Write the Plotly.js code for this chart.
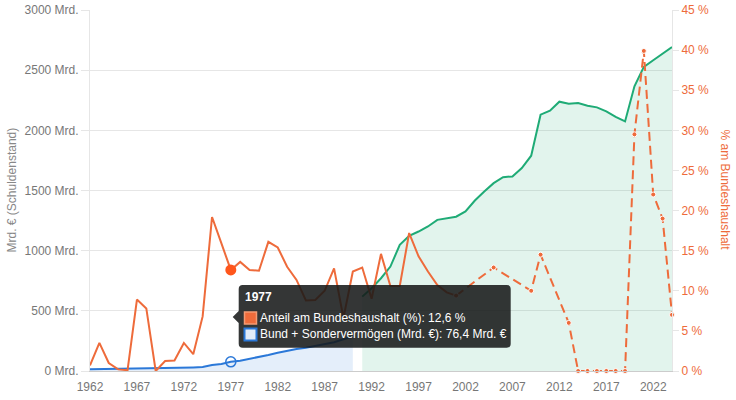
<!DOCTYPE html>
<html lang="de">
<head>
<meta charset="utf-8">
<script src="https://cdn.plot.ly/plotly-3.0.1.min.js"></script>
<style>
  html, body { margin: 0; padding: 0; background: #fff; }
  #chart { width: 736px; height: 400px; }
</style>
</head>
<body>
<div id="chart"></div>
<script>
// Schuldenstand Bund (Mrd. €), 1962-1990
const yearsBund = [1962, 1963, 1964, 1965, 1966, 1967, 1968, 1969, 1970, 1971,
    1972, 1973, 1974, 1975, 1976, 1977, 1978, 1979, 1980, 1981,
    1982, 1983, 1984, 1985, 1986, 1987, 1988, 1989, 1990];
const debtBund = [14, 15, 17, 18, 19, 22, 25, 24, 25, 26,
    28, 30, 33, 50, 58, 76.4, 86, 100, 114, 133,
    152, 169, 183, 194, 208, 222, 239, 264, 285];

// Bund + Sondervermögen (Mrd. €), 1991-2024
const yearsSonder = [1991, 1992, 1993, 1994, 1995, 1996, 1997, 1998, 1999, 2000,
    2001, 2002, 2003, 2004, 2005, 2006, 2007, 2008, 2009, 2010,
    2011, 2012, 2013, 2014, 2015, 2016, 2017, 2018, 2019, 2020,
    2021, 2022, 2023, 2024];
const debtSonder = [618, 688, 771, 868, 1048, 1123, 1159, 1201, 1256, 1268,
    1282, 1326, 1417, 1492, 1561, 1611, 1617, 1686, 1789, 2130,
    2163, 2238, 2221, 2227, 2205, 2191, 2158, 2111, 2074, 2366,
    2527, 2582, 2637, 2693];

// Anteil am Bundeshaushalt (%)
const yearsShare = [1962, 1963, 1964, 1965, 1966, 1967, 1968, 1969, 1970, 1971,
    1972, 1973, 1974, 1975, 1976, 1977, 1978, 1979, 1980, 1981,
    1982, 1983, 1984, 1985, 1986, 1987, 1988, 1989, 1990, 1991,
    1992, 1993, 1994, 1995, 1996, 1997, 1998, 1999, 2000, 2001];
const shareBudget = [0.7, 3.5, 1.0, 0.2, 0.1, 8.9, 7.8, 0.0, 1.25, 1.3,
    3.5, 2.1, 6.8, 19.2, 15.9, 12.6, 13.6, 12.6, 12.5, 16.1,
    15.4, 13.0, 11.35, 8.8, 8.85, 10.0, 12.8, 6.6, 12.4, 12.9,
    9.0, 14.6, 10.6, 10.6, 17.2, 14.3, 12.4, 10.7, 9.8, 9.4];

const yearsShareLater = [2001, 2005, 2009, 2010, 2013, 2014, 2015, 2016, 2017, 2018,
    2019, 2020, 2021, 2022, 2023, 2024];
const shareBudgetLater = [9.4, 12.9, 10.0, 14.5, 6.0, 0, 0, 0, 0, 0,
    0, 29.5, 39.9, 22.0, 19.0, 7.0];

const xTickYears = [1962, 1967, 1972, 1977, 1982, 1987, 1992, 1997, 2002, 2007, 2012, 2017, 2022];
const leftTicks = [0, 500, 1000, 1500, 2000, 2500, 3000];
const leftTickText = ['0 Mrd.', '500 Mrd.', '1000 Mrd.', '1500 Mrd.', '2000 Mrd.', '2500 Mrd.', '3000 Mrd.'];
const rightTicks = [0, 5, 10, 15, 20, 25, 30, 35, 40, 45];
const rightTickText = ['0 %', '5 %', '10 %', '15 %', '20 %', '25 %', '30 %', '35 %', '40 %', '45 %'];

const hoverYear = 1977;

const colors = {
    orange: '#ee6b3b',
    orangeHover: '#ff561c',
    blue: '#2b78d8',
    blueFill: 'rgba(43,120,216,0.13)',
    green: '#1fab76',
    greenFill: 'rgba(31,171,118,0.13)',
    text: '#777',
    grid: '#e6e6e6'
};
const FONT = 'Liberation Sans, Arial, sans-serif';

// plot area in pixels: left 90, top 10, width 582, height 361
const px = X => (X - 90) / 582;
const py = Y => (371 - Y) / 361;
const fmt = v => v.toFixed(1).replace('.', ',');

function tooltipPath(x0, y0, x1, y1, r, tipY) {
    const p = (X, Y) => px(X).toFixed(5) + ',' + py(Y).toFixed(5);
    return 'M' + p(x0 + r, y0) + ' L' + p(x1 - r, y0) + ' Q' + p(x1, y0) + ' ' + p(x1, y0 + r) +
        ' L' + p(x1, y1 - r) + ' Q' + p(x1, y1) + ' ' + p(x1 - r, y1) +
        ' L' + p(x0 + r, y1) + ' Q' + p(x0, y1) + ' ' + p(x0, y1 - r) +
        ' L' + p(x0, tipY + 6) + ' L' + p(x0 - 6, tipY) + ' L' + p(x0, tipY - 6) +
        ' L' + p(x0, y0 + r) + ' Q' + p(x0, y0) + ' ' + p(x0 + r, y0) + ' Z';
}

const iShare = yearsShare.indexOf(hoverYear);
const iBund = yearsBund.indexOf(hoverYear);

const traces = [
    {
        x: yearsBund, y: debtBund, type: 'scatter', mode: 'lines',
        name: 'Bund + Sondervermögen (Mrd. €)',
        fill: 'tozeroy', fillcolor: colors.blueFill,
        line: { color: colors.blue, width: 2 }
    },
    {
        x: yearsSonder, y: debtSonder, type: 'scatter', mode: 'lines',
        name: 'Bund + Sondervermögen (Mrd. €)',
        fill: 'tozeroy', fillcolor: colors.greenFill,
        line: { color: colors.green, width: 2 }
    },
    {
        x: [hoverYear], y: [debtBund[iBund]], type: 'scatter', mode: 'markers',
        marker: { size: 10, color: 'rgba(0,0,0,0)', line: { color: colors.blue, width: 1.5 } }
    },
    {
        x: yearsShare, y: shareBudget, type: 'scatter', mode: 'lines', yaxis: 'y2',
        name: 'Anteil am Bundeshaushalt (%)',
        line: { color: colors.orange, width: 2 }
    },
    {
        x: yearsShareLater, y: shareBudgetLater, type: 'scatter', mode: 'lines+markers', yaxis: 'y2',
        line: { color: colors.orange, width: 2, dash: '9px,5px' },
        marker: { size: 5, color: colors.orange, line: { color: '#fff', width: 1 } },
        cliponaxis: false
    },
    {
        x: [hoverYear], y: [shareBudget[iShare]], type: 'scatter', mode: 'markers', yaxis: 'y2',
        marker: { size: 11, color: colors.orangeHover }
    }
];

const layout = {
    width: 736,
    height: 400,
    margin: { l: 90, r: 64, t: 10, b: 29 },
    paper_bgcolor: '#fff',
    plot_bgcolor: '#fff',
    font: { family: FONT, size: 12, color: colors.text },
    showlegend: false,
    hovermode: false,
    xaxis: {
        range: [1962, 2024],
        tickvals: xTickYears,
        showgrid: false, zeroline: false,
        showline: true, linecolor: '#ccc', linewidth: 1,
        ticks: 'outside', ticklen: 5, tickcolor: 'rgba(0,0,0,0)',
        tickfont: { size: 12, color: colors.text }
    },
    yaxis: {
        range: [0, 3000],
        tickvals: leftTicks, ticktext: leftTickText,
        gridcolor: colors.grid, zeroline: false,
        showline: true, linecolor: colors.grid,
        ticks: 'outside', ticklen: 8, tickcolor: colors.grid,
        tickfont: { size: 12, color: colors.text }
    },
    yaxis2: {
        overlaying: 'y', side: 'right',
        range: [0, 45],
        tickvals: rightTicks, ticktext: rightTickText,
        showgrid: false, zeroline: false,
        showline: true, linecolor: colors.grid,
        ticks: 'outside', ticklen: 6, tickcolor: colors.grid,
        tickfont: { size: 12, color: colors.orange }
    },
    shapes: [
        {
            type: 'path', xref: 'paper', yref: 'paper', layer: 'above',
            path: tooltipPath(238.7, 285, 510.7, 347.7, 4, 317),
            fillcolor: 'rgba(22,24,24,0.87)', line: { width: 0 }
        },
        {
            type: 'rect', xref: 'paper', yref: 'paper', layer: 'above',
            x0: px(244.5), x1: px(256.5), y0: py(312), y1: py(324),
            fillcolor: colors.orange, line: { color: '#f39a73', width: 1.5 }
        },
        {
            type: 'rect', xref: 'paper', yref: 'paper', layer: 'above',
            x0: px(244.5), x1: px(256.5), y0: py(328.5), y1: py(340.5),
            fillcolor: '#e2ecf9', line: { color: colors.blue, width: 2 }
        }
    ],
    annotations: [
        {
            xref: 'paper', yref: 'paper', x: px(11), y: 0.5,
            text: 'Mrd. € (Schuldenstand)', textangle: -90, showarrow: false,
            xanchor: 'center', yanchor: 'middle',
            font: { size: 12, color: '#888' }
        },
        {
            xref: 'paper', yref: 'paper', x: px(725), y: 0.5,
            text: '% am Bundeshaushalt', textangle: 90, showarrow: false,
            xanchor: 'center', yanchor: 'middle',
            font: { size: 12, color: colors.orange }
        },
        {
            xref: 'paper', yref: 'paper', x: px(244), y: py(297),
            text: '<b>' + hoverYear + '</b>', showarrow: false, borderpad: 0,
            xanchor: 'left', yanchor: 'middle',
            font: { size: 12, color: '#fff' }
        },
        {
            xref: 'paper', yref: 'paper', x: px(258.5), y: py(318),
            text: 'Anteil am Bundeshaushalt (%): ' + fmt(shareBudget[iShare]) + ' %',
            showarrow: false, borderpad: 0, xanchor: 'left', yanchor: 'middle',
            font: { size: 12, color: '#fff' }
        },
        {
            xref: 'paper', yref: 'paper', x: px(258.5), y: py(334),
            text: 'Bund + Sondervermögen (Mrd. €): ' + fmt(debtBund[iBund]) + ' Mrd. €',
            showarrow: false, borderpad: 0, xanchor: 'left', yanchor: 'middle',
            font: { size: 12, color: '#fff' }
        }
    ]
};

Plotly.newPlot('chart', traces, layout, { displayModeBar: false, staticPlot: true });
</script>
</body>
</html>
